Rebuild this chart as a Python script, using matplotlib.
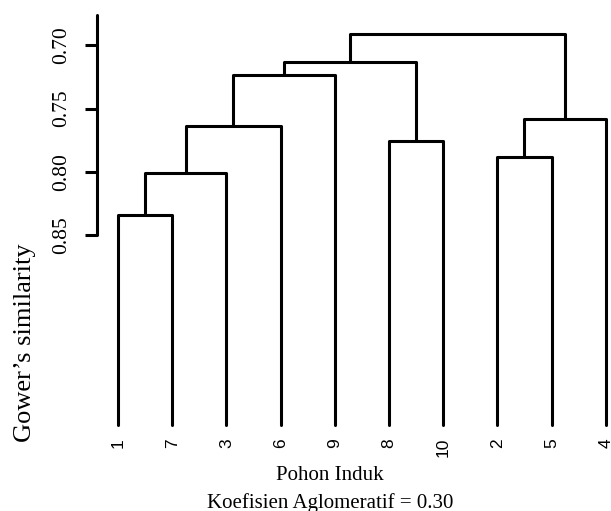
import matplotlib
matplotlib.use("Agg")
from matplotlib import pyplot as plt

# leaves in dendrogram order, and merges (pair of nodes, similarity level)
leaf_labels = ["1", "7", "3", "6", "9", "8", "10", "2", "5", "4"]
merge_pairs = [("1", "7"), ("c1", "3"), ("c2", "6"), ("c3", "9"),
               ("8", "10"), ("c4", "c5"), ("2", "5"), ("c7", "4"),
               ("c6", "c8")]
merge_sim = [0.834, 0.801, 0.764, 0.7235, 0.776, 0.713, 0.788, 0.7585, 0.691]
ytick_vals = [0.70, 0.75, 0.80, 0.85]
ytick_text = ["0.70", "0.75", "0.80", "0.85"]
coef_text = "Koefisien Aglomeratif = 0.30"

serif = ["Liberation Serif", "DejaVu Serif"]
sans = ["Liberation Sans", "DejaVu Sans"]
lw = 2.2

fig = plt.figure(figsize=(6.11, 5.11), dpi=100)
ax = fig.add_axes([97.3 / 611, 1 - 438 / 511, 1 - 97.3 / 611, (438 - 15) / 511])

# node positions: leaves sit at similarity 1
nodes = {lab: (i + 1, 1.0) for i, lab in enumerate(leaf_labels)}
for k, ((a, b), h) in enumerate(zip(merge_pairs, merge_sim)):
    xa, ya = nodes[a]
    xb, yb = nodes[b]
    ax.plot([xa, xa, xb, xb], [ya, h, h, yb], color="black", lw=lw,
            solid_capstyle="round", solid_joinstyle="round", clip_on=False)
    nodes["c%d" % (k + 1)] = ((xa + xb) / 2, h)

ax.set_xlim(1 - 20.7 / 54.19, 1 + 493 / 54.19)
ax.set_ylim(1.0102, 0.6761)

for s in ["top", "right", "bottom"]:
    ax.spines[s].set_visible(False)
ax.spines["left"].set_linewidth(lw)
ax.spines["left"].set_bounds(0.85, 0.6761)
ax.spines["left"].set_capstyle("round")

ax.set_yticks(ytick_vals)
ax.set_yticklabels(ytick_text, rotation=90, va="center", family=serif, fontsize=15.5)
ax.tick_params(axis="y", length=8.6, width=lw, pad=10)

ax.set_xticks(range(1, len(leaf_labels) + 1))
ax.set_xticklabels(leaf_labels, rotation=90, family=sans, fontsize=12.5)
ax.tick_params(axis="x", length=0, pad=0)

fig.text(31.5 / 611, 1 - 342.5 / 511, "Gower\u2019s similarity", rotation=90,
         rotation_mode="anchor", ha="center", va="baseline", family=serif, fontsize=19)
fig.text(330 / 611, 1 - 480 / 511, "Pohon Induk", ha="center", va="baseline",
         family=serif, fontsize=15)
fig.text(330 / 611, 1 - 508 / 511, coef_text, ha="center", va="baseline",
         family=serif, fontsize=15)

fig.savefig("out.png", dpi=100)
